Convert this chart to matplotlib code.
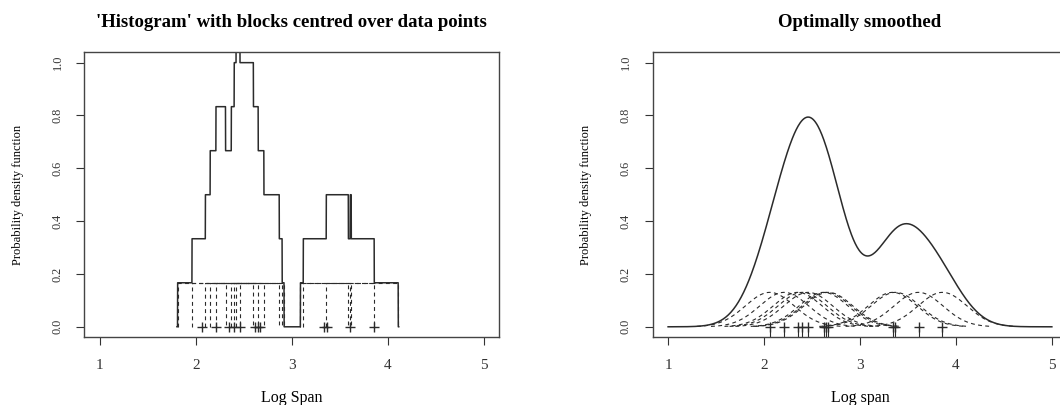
import numpy as np
import matplotlib.pyplot as plt

plt.rcParams['font.family'] = ['Liberation Serif', 'DejaVu Serif']

log_span = np.array([2.06, 2.21, 2.35, 2.40, 2.46, 2.62, 2.65, 2.67,
                     3.34, 3.37, 3.61, 3.86])
block_width = 0.5      # width of each block in the left panel
bandwidth = 0.255      # gaussian kernel sd in the right panel

x_ticks = [1, 2, 3, 4, 5]
y_ticks = [0.0, 0.2, 0.4, 0.6, 0.8, 1.0]
titles = ["'Histogram' with blocks centred over data points", "Optimally smoothed"]
x_labels = ["Log Span", "Log span"]
y_label = "Probability density function"

line_col = '#2b2b2b'
dash = (0, (3.5, 3))
n = len(log_span)

fig = plt.figure(figsize=(10.6, 4.05), dpi=100)
ax1 = fig.add_axes([0.0797, 0.167, 0.391, 0.7044])
ax2 = fig.add_axes([0.6158, 0.167, 0.391, 0.7044])

# left: blocks centred over each point
h_block = 1 / (n * block_width)
for xi in log_span:
    lo, hi = xi - block_width / 2, xi + block_width / 2
    ax1.plot([lo, lo, hi, hi], [0, h_block, h_block, 0], color=line_col,
             lw=0.8, ls=dash)
grid = np.linspace(log_span.min() - block_width / 2 - 0.005,
                   log_span.max() + block_width / 2 + 0.005, 3000)
step = (np.abs(grid[:, None] - log_span[None, :]) <= block_width / 2).sum(axis=1) * h_block
ax1.plot(grid, step, color=line_col, lw=1.1)
ax1.plot(log_span, np.zeros(n), '+', color=line_col, ms=7, mew=1.0)

# right: gaussian kernels and their sum
xs = np.linspace(1, 5, 600)
kde = np.zeros_like(xs)
for xi in log_span:
    k = np.exp(-0.5 * ((xs - xi) / bandwidth) ** 2) / (n * bandwidth * np.sqrt(2 * np.pi))
    kde += k
    m = np.abs(xs - xi) <= 3 * bandwidth
    ax2.plot(xs[m], k[m], color=line_col, lw=0.8, ls=dash)
ax2.plot(xs, kde, color=line_col, lw=1.1)
ax2.plot(log_span, np.zeros(n), '+', color=line_col, ms=7, mew=1.0)
ax2.vlines(log_span, 0, 0.03, color=line_col, lw=0.8, transform=ax2.get_xaxis_transform())

for ax, title, xl in zip([ax1, ax2], titles, x_labels):
    ax.set_xlim(0.84, 5.16)
    ax.set_ylim(-0.04, 1.04)
    ax.set_xticks(x_ticks)
    ax.set_xticklabels([str(t) for t in x_ticks], fontsize=11)
    ax.set_yticks(y_ticks)
    ax.set_yticklabels([f'{t:.1f}' for t in y_ticks], rotation=90, va='center', fontsize=8.8)
    ax.tick_params(axis='x', direction='out', length=5.7, width=0.8, pad=10, colors='#333333')
    ax.tick_params(axis='y', direction='out', length=5.7, width=0.8, pad=9.4, colors='#333333')
    for s in ax.spines.values():
        s.set_linewidth(1.0)
        s.set_color('#444444')
    ax.set_title(title, fontsize=13.5, fontweight='bold', pad=18)
    ax.set_xlabel(xl, fontsize=11.5, labelpad=13)
    ax.set_ylabel(y_label, fontsize=9, labelpad=20)

fig.savefig('out.png', dpi=100)
